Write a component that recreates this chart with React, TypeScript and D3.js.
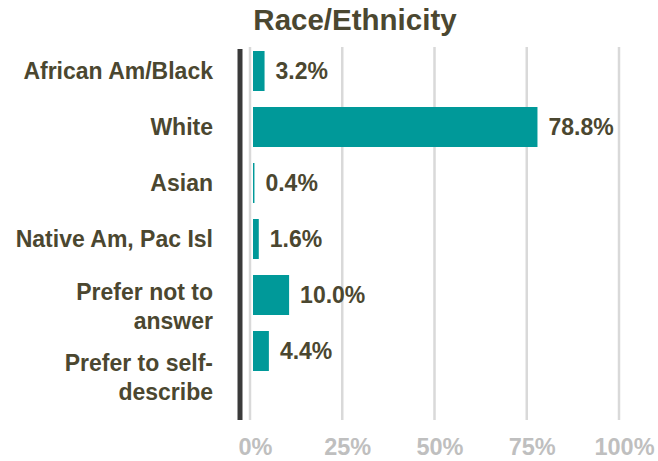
import React from "react";
import * as d3 from "d3";

const title = "Race/Ethnicity";
const categories = [
  "African Am/Black",
  "White",
  "Asian",
  "Native Am, Pac Isl",
  "Prefer not to\nanswer",
  "Prefer to self-\ndescribe",
];
const values = [3.2, 78.8, 0.4, 1.6, 10.0, 4.4];
const valueLabels = ["3.2%", "78.8%", "0.4%", "1.6%", "10.0%", "4.4%"];
const ticks = [0, 25, 50, 75, 100];
const tickLabels = ["0%", "25%", "50%", "75%", "100%"];

const W = 658;
const H = 461;
const TEXT = "#4b4730";
const TEAL = "#009999";
const FONT = "'Liberation Sans', Arial, Helvetica, sans-serif";

export default function App() {
  const x = d3.scaleLinear().domain([0, 100]).range([250, 619]);
  const bx = d3.scaleLinear().domain([0, 100]).range([253, 614]);
  const y = d3
    .scaleBand<string>()
    .domain(categories)
    .range([43, 379])
    .paddingInner(16 / 56)
    .paddingOuter(8 / 56);
  const plotTop = 47;
  const plotBottom = 420;

  return (
    <svg
      width={W}
      height={H}
      style={{ position: "absolute", left: 0, top: 0, background: "#fff" }}
      fontFamily={FONT}
    >
      <rect x={0} y={0} width={W} height={H} fill="#fff" />
      <text
        x={355}
        y={30}
        textAnchor="middle"
        fontWeight="bold"
        fontSize={29.5}
        fill={TEXT}
      >
        {title}
      </text>
      {ticks.map((t, i) => (
        <g key={t}>
          <line
            x1={x(t)}
            x2={x(t)}
            y1={plotTop}
            y2={plotBottom}
            stroke="#d9d9d9"
            strokeWidth={2.5}
          />
          <text
            x={x(t) + 5.5}
            y={455}
            textAnchor="middle"
            fontWeight="bold"
            fontSize={23.5}
            fill="#bfbfbf"
          >
            {tickLabels[i]}
          </text>
        </g>
      ))}
      <line
        x1={240}
        x2={240}
        y1={plotTop + 2}
        y2={plotBottom}
        stroke="#3a3a3a"
        strokeWidth={5}
      />
      {categories.map((c, i) => {
        const yc = (y(c) as number) + y.bandwidth() / 2;
        const lines = c.split("\n");
        const last = i === categories.length - 1;
        const first = lines.length === 1 ? yc + 8 : yc + (last ? 20 : 5);
        return (
          <g key={c}>
            <rect
              x={bx(0)}
              y={y(c)}
              width={bx(values[i]) - bx(0)}
              height={y.bandwidth()}
              fill={TEAL}
            />
            <text
              x={bx(values[i]) + 11}
              y={yc + 8}
              fontWeight="bold"
              fontSize={23}
              fill={TEXT}
            >
              {valueLabels[i]}
            </text>
            <text
              x={213}
              textAnchor="end"
              fontWeight="bold"
              fontSize={23}
              fill={TEXT}
            >
              {lines.map((l, j) => (
                <tspan key={j} x={213} y={first + j * 29}>
                  {l}
                </tspan>
              ))}
            </text>
          </g>
        );
      })}
    </svg>
  );
}
